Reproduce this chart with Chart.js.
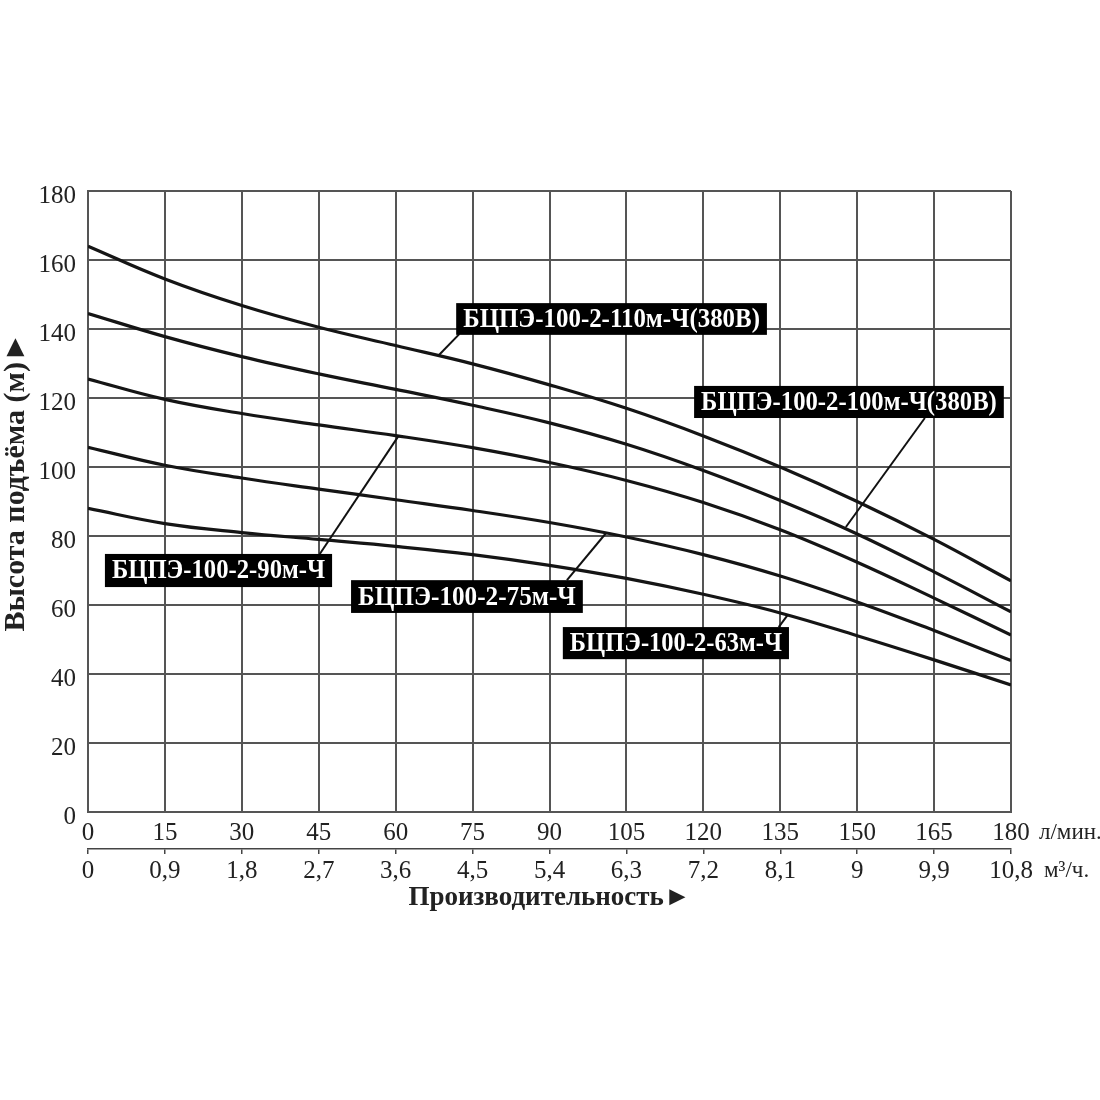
<!DOCTYPE html>
<html><head><meta charset="utf-8">
<script src="https://cdn.jsdelivr.net/npm/chart.js@4.4.1/dist/chart.umd.min.js"></script>
<style>html,body{margin:0;padding:0;background:#fff;} canvas{display:block;}</style>
</head><body>
<canvas id="c" width="1100" height="1100"></canvas>
<script>
const FLOW_LPM = [0,15,30,45,60,75,90,105,120,135,150,165,180];
const FLOW_M3H_LABELS = ['0','0,9','1,8','2,7','3,6','4,5','5,4','6,3','7,2','8,1','9','9,9','10,8'];
const HEAD_TICKS = [0,20,40,60,80,100,120,140,160,180];
const HEAD_110 = [164,154.5,146.8,140.5,135.2,129.9,123.8,117,109,100,90,79,67];
const HEAD_100 = [144.5,137.8,132,127,122.5,117.9,112.8,106.6,99,90.3,80.6,69.6,58];
const HEAD_90  = [125.5,119.6,115.5,112.2,109.1,105.6,101.3,96.1,89.7,81.8,72.4,62,51.3];
const HEAD_75  = [105.7,100.5,96.8,93.6,90.5,87.4,83.9,79.7,74.6,68.4,60.9,52.6,43.9];
const HEAD_63  = [88,83.6,81,79,77,74.6,71.5,67.7,63.1,57.7,51.1,44.1,36.8];
const SERIES_NAMES = ['БЦПЭ-100-2-110м-Ч(380В)','БЦПЭ-100-2-100м-Ч(380В)','БЦПЭ-100-2-90м-Ч','БЦПЭ-100-2-75м-Ч','БЦПЭ-100-2-63м-Ч'];
const SERIES_VALUES = [HEAD_110, HEAD_100, HEAD_90, HEAD_75, HEAD_63];
const Y_TITLE = 'Высота подъёма (м)►';
const X_TITLE = 'Производительность►';

// label boxes (data coords): [x0, x1, yTop, yBottom], leader [from x,y] -> [to x,y]
const LABELS = [
  {text: SERIES_NAMES[0], box:[71.8,132.4,147.5,138.3], from:[72.4,138.5], to:[68.4,132.4]},
  {text: SERIES_NAMES[1], box:[118.2,178.6,123.5,114.2], from:[163.2,114.2], to:[147.8,82.6]},
  {text: SERIES_NAMES[2], box:[3.3,47.6,74.8,65.2], from:[45.2,74.8], to:[60.6,109.1]},
  {text: SERIES_NAMES[3], box:[51.3,96.5,67.2,57.7], from:[93.4,67.2], to:[101,80.8]},
  {text: SERIES_NAMES[4], box:[92.6,136.7,53.6,44.3], from:[134.7,53.6], to:[136.5,57.2]}
];

const SERIF = '"Liberation Serif","Times New Roman",serif';
const GRID = '#555';

const datasets = SERIES_VALUES.map((vals, i) => ({
  label: SERIES_NAMES[i],
  data: FLOW_LPM.map((x, j) => ({x, y: vals[j]})),
  borderColor: '#151515',
  borderWidth: 3.2,
  pointRadius: 0,
  fill: false,
  tension: 0.4
}));

const annotPlugin = {
  id: 'annot',
  afterDatasetsDraw(chart) {
    const {ctx, scales:{x, y}, chartArea} = chart;
    ctx.save();
    LABELS.forEach(l => {
      ctx.strokeStyle = '#111';
      ctx.lineWidth = 2;
      ctx.beginPath();
      ctx.moveTo(x.getPixelForValue(l.from[0]), y.getPixelForValue(l.from[1]));
      ctx.lineTo(x.getPixelForValue(l.to[0]), y.getPixelForValue(l.to[1]));
      ctx.stroke();
      const bx0 = x.getPixelForValue(l.box[0]), bx1 = x.getPixelForValue(l.box[1]);
      const by0 = y.getPixelForValue(l.box[2]), by1 = y.getPixelForValue(l.box[3]);
      ctx.fillStyle = '#000';
      ctx.fillRect(bx0, by0, bx1 - bx0, by1 - by0);
      ctx.fillStyle = '#fff';
      ctx.font = 'bold 27px ' + SERIF;
      ctx.textAlign = 'center';
      ctx.textBaseline = 'middle';
      ctx.fillText(l.text, (bx0 + bx1) / 2, (by0 + by1) / 2 + 1, bx1 - bx0 - 14);
    });
    // unit labels
    ctx.fillStyle = '#222';
    ctx.font = '23px ' + SERIF;
    ctx.textAlign = 'left';
    ctx.textBaseline = 'middle';
    ctx.fillText('л/мин.', chartArea.right + 28, 833, 68);
    ctx.fillText('м³/ч.', chartArea.right + 33, 871, 52);
    // y-axis title
    ctx.translate(16, 482);
    ctx.rotate(-Math.PI / 2);
    ctx.font = 'bold 30px ' + SERIF;
    ctx.textAlign = 'center';
    ctx.fillText(Y_TITLE, 0, 0);
    ctx.restore();
  }
};

new Chart(document.getElementById('c'), {
  type: 'line',
  data: { datasets },
  options: {
    responsive: false,
    animation: false,
    devicePixelRatio: 1,
    layout: { padding: { left: 0, right: 89, top: 191, bottom: 185.6 } },
    plugins: { legend: { display: false }, tooltip: { enabled: false } },
    scales: {
      x: {
        type: 'linear', position: 'bottom', weight: 0,
        min: 0, max: 180,
        afterBuildTicks(s) { s.ticks = FLOW_LPM.map(v => ({value: v})); },
        afterFit(s) { s.height = 37; },
        grid: { color: GRID, lineWidth: 2, drawTicks: false },
        border: { color: GRID, width: 2 },
        ticks: { color: '#222', padding: 6, maxRotation: 0, autoSkip: false,
          font: { family: SERIF, size: 25 } }
      },
      x2: {
        type: 'linear', position: 'bottom', weight: 1,
        min: 0, max: 180,
        afterBuildTicks(s) { s.ticks = FLOW_LPM.map(v => ({value: v})); },
        afterFit(s) { s.height = 65.4; },
        grid: { display: true, drawOnChartArea: false, drawTicks: true, tickLength: 5, color: '#444', lineWidth: 1.5 },
        border: { display: true, color: '#444', width: 1.5 },
        ticks: { color: '#222', padding: 2, maxRotation: 0, autoSkip: false,
          font: { family: SERIF, size: 25 },
          callback(v) { const i = FLOW_LPM.indexOf(v); return i >= 0 ? FLOW_M3H_LABELS[i] : ''; } },
        title: { display: true, text: X_TITLE, color: '#222',
          font: { family: SERIF, size: 27, weight: 'bold', lineHeight: 1.2 },
          padding: { top: 0, bottom: 0 } }
      },
      y: {
        type: 'linear', position: 'left',
        min: 0, max: 180,
        afterBuildTicks(s) { s.ticks = HEAD_TICKS.map(v => ({value: v})); },
        afterFit(s) { s.width = 88; },
        grid: { color: GRID, lineWidth: 2, drawTicks: false },
        border: { color: GRID, width: 2 },
        ticks: { color: '#222', padding: 12, labelOffset: 5,
          font: { family: SERIF, size: 25 } }
      }
    }
  },
  plugins: [annotPlugin]
});
</script>
</body></html>
